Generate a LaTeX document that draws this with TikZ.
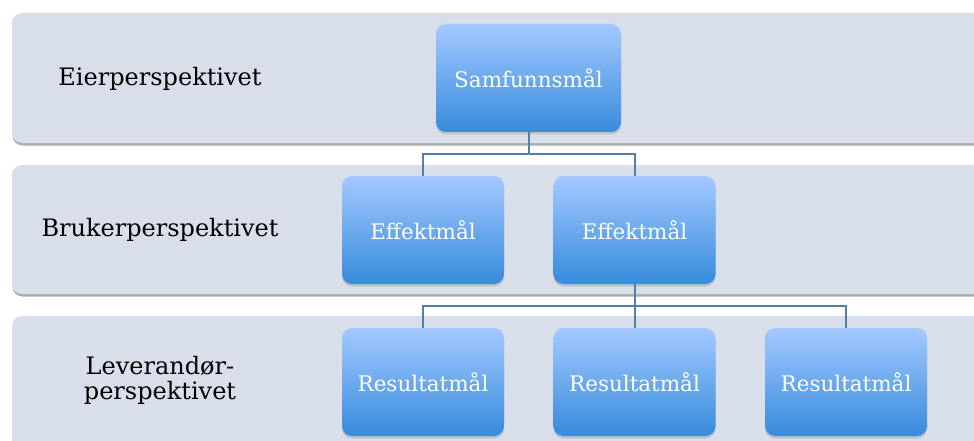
\documentclass[tikz,border=0pt]{standalone}
\usepackage{fontspec}
\setmainfont{DejaVu Serif}
\usetikzlibrary{shadows}

\definecolor{bandfill}{RGB}{216,222,234}
\definecolor{boxtop}{RGB}{163,201,255}
\definecolor{boxbottom}{RGB}{54,139,219}
\definecolor{linkblue}{RGB}{82,126,170}

\tikzset{
  band/.style={fill=bandfill, rounded corners=10pt,
    drop shadow={shadow xshift=0.5pt, shadow yshift=-2.5pt, opacity=0.6, fill=black!55}},
  goal/.style={rectangle, rounded corners=10pt, minimum width=162pt, minimum height=108pt,
    top color=boxtop, bottom color=boxbottom, draw=none, text=white,
    font=\fontsize{21.5}{26}\selectfont,
    drop shadow={shadow xshift=0pt, shadow yshift=-2.5pt, opacity=0.3}},
  perspective/.style={font=\fontsize{24}{25}\selectfont, align=center, text=black},
  link/.style={draw=linkblue, line width=2pt, line join=miter}
}

\begin{document}
\begin{tikzpicture}[x=1pt, y=-1pt]
  \useasboundingbox (0,0) rectangle (974,441);
  \clip (0,0) rectangle (974,441);

  % horizontal perspective bands
  \path[band] (12,13) rectangle (995,143);
  \path[band] (12,165) rectangle (995,294);
  \path[band] (12,316) rectangle (995,470);

  % perspective labels
  \node[perspective] (lab1) at (160,79) {Eierperspektivet};
  \node[perspective] (lab2) at (160,230) {Brukerperspektivet};
  \node[perspective] (lab3) at (160,380) {Leverandør-\\perspektivet};

  % goal hierarchy
  \node[goal, minimum width=185pt] (sam) at (528.5,78) {Samfunnsmål};
  \node[goal] (eff1) at (423,230) {Effektmål};
  \node[goal] (eff2) at (634.5,230) {Effektmål};
  \node[goal] (res1) at (423,382) {Resultatmål};
  \node[goal] (res2) at (634.5,382) {Resultatmål};
  \node[goal] (res3) at (846,382) {Resultatmål};

  % connectors
  \coordinate (j1) at (528.5,154);
  \coordinate (j2) at (634.5,306);
  \draw[link] (sam.south) -- (j1);
  \draw[link] (eff1.north) |- (j1) -| (eff2.north);
  \draw[link] (eff2.south) -- (j2);
  \draw[link] (res1.north) |- (j2) -| (res3.north);
  \draw[link] (j2) -- (res2.north);
\end{tikzpicture}
\end{document}
